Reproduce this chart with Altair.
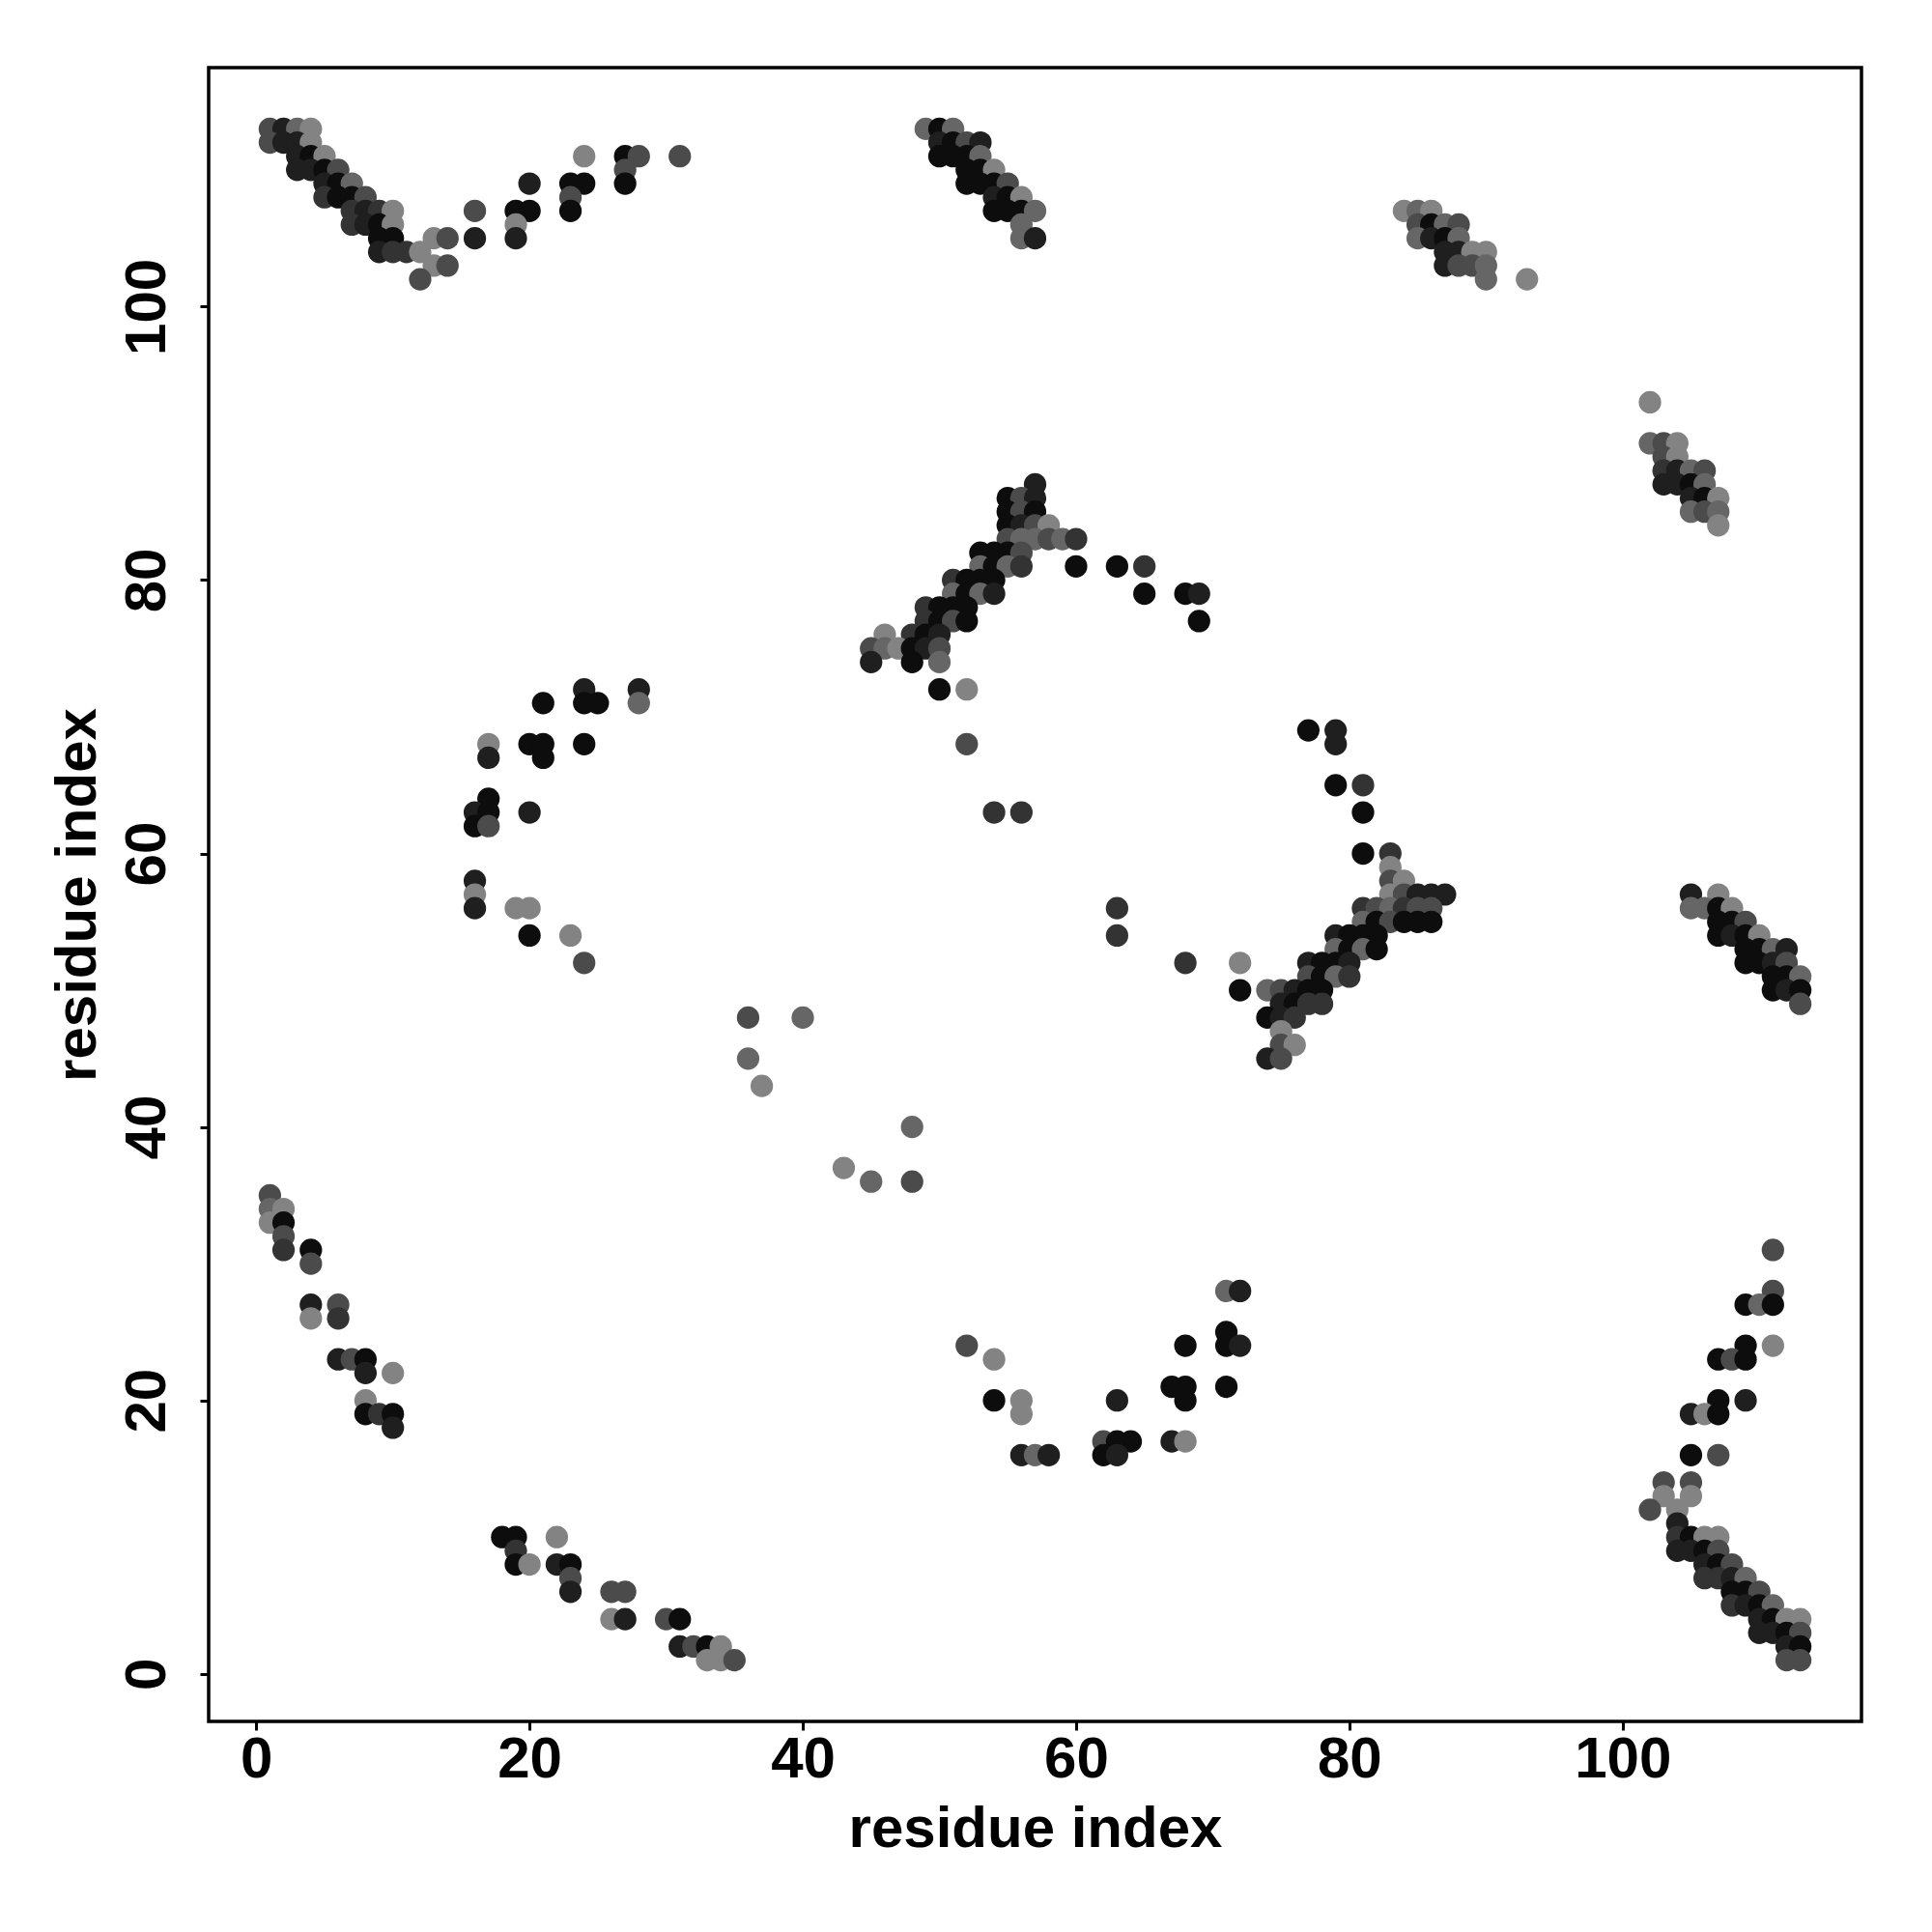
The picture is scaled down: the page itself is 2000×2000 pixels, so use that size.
import altair as alt
import pandas as pd

# Contact map points: (residue i, residue j, shade level 0=black .. 5=light grey)
top_left = [
    (1,113,3),(2,113,1),(3,113,4),(4,113,5),
    (1,112,3),(2,112,1),(3,112,1),(4,112,5),
    (3,111,1),(4,111,0),(5,111,5),(24,111,5),(27,111,0),(28,111,3),(31,111,3),
    (3,110,1),(4,110,1),(5,110,0),(6,110,3),(27,110,3),
    (5,109,1),(6,109,0),(7,109,4),(20,109,1),(23,109,0),(24,109,0),(27,109,0),
    (5,108,2),(6,108,0),(7,108,0),(8,108,3),(23,108,3),
    (7,107,2),(8,107,1),(9,107,2),(10,107,5),(16,107,3),(19,107,0),(20,107,0),(23,107,0),
    (7,106,2),(8,106,1),(9,106,0),(10,106,5),(19,106,5),
    (9,105,0),(10,105,0),(13,105,5),(14,105,3),(16,105,1),(19,105,1),
    (9,104,1),(10,104,2),(11,104,2),(12,104,5),
    (13,103,5),(14,103,3),
    (12,102,3),
]
top_mid = [
    (49,113,4),(50,113,0),(51,113,4),
    (50,112,1),(51,112,0),(52,112,3),(53,112,1),
    (50,111,0),(51,111,0),(52,111,0),(53,111,4),
    (52,110,0),(53,110,0),(54,110,5),
    (52,109,0),(53,109,0),(54,109,0),(55,109,3),
    (54,108,1),(55,108,0),(56,108,5),
    (54,107,0),(55,107,0),(56,107,0),(57,107,4),
    (56,106,4),
    (56,105,4),(57,105,1),
]
top_right = [
    (84,107,5),(85,107,4),(86,107,5),
    (85,106,3),(86,106,0),(87,106,4),(88,106,3),
    (85,105,4),(86,105,1),(87,105,0),(88,105,4),
    (87,104,1),(88,104,1),(89,104,5),(90,104,5),
    (87,103,1),(88,103,3),(89,103,3),(90,103,4),
    (90,102,4),(93,102,5),
]
right_upper = [
    (102,93,5),
    (102,90,4),(103,90,3),(104,90,5),
    (103,89,3),(104,89,5),
    (103,88,2),(104,88,1),(105,88,4),(106,88,3),
    (103,87,1),(104,87,1),(105,87,0),(106,87,4),
    (105,86,1),(106,86,0),(107,86,5),
    (105,85,4),(106,85,3),(107,85,4),
    (107,84,5),
]
center = [
    (57,87,1),
    (55,86,0),(56,86,3),(57,86,1),
    (55,85,0),(56,85,3),(57,85,0),
    (55,84,0),(56,84,1),(57,84,3),(58,84,5),
    (55,83,3),(56,83,4),(57,83,4),(58,83,3),(59,83,4),(60,83,2),
    (53,82,0),(54,82,0),(55,82,0),(56,82,3),
    (53,81,4),(54,81,0),(55,81,4),(56,81,2),(60,81,0),(63,81,0),(65,81,2),
    (51,80,2),(52,80,0),(53,80,0),(54,80,0),
    (51,79,4),(52,79,0),(53,79,4),(54,79,1),(65,79,0),(68,79,0),(69,79,1),
    (49,78,2),(50,78,0),(51,78,0),(52,78,0),
    (49,77,2),(50,77,0),(51,77,3),(52,77,0),(69,77,0),
    (46,76,5),(48,76,2),(49,76,0),(50,76,1),
    (45,75,3),(46,75,4),(47,75,5),(48,75,0),(49,75,1),(50,75,3),
    (45,74,1),(48,74,0),(50,74,4),
    (50,72,0),(52,72,5),
    (52,68,3),
    (54,63,2),(56,63,2),
]
left_mid = [
    (24,72,1),(28,72,1),
    (21,71,0),(24,71,0),(25,71,0),(28,71,4),
    (17,68,5),(20,68,0),(21,68,0),(24,68,0),
    (17,67,1),(21,67,0),
    (17,64,0),
    (16,63,1),(17,63,0),(20,63,1),
    (16,62,0),(17,62,3),
    (16,58,1),
    (16,57,5),
    (16,56,1),(19,56,5),(20,56,5),
    (20,54,0),(23,54,5),
    (24,52,3),
]
right_mid = [
    (77,69,0),(79,69,1),
    (79,68,1),
    (79,65,0),(81,65,2),
    (81,63,0),
    (81,60,0),(83,60,2),
    (83,59,5),
    (83,58,3),(84,58,5),
    (83,57,5),(84,57,3),(85,57,1),(86,57,1),(87,57,1),
    (81,56,2),(82,56,3),(83,56,4),(84,56,2),(85,56,3),(86,56,3),
    (81,55,4),(82,55,0),(83,55,3),(84,55,0),(85,55,0),(86,55,0),
    (79,54,1),(80,54,0),(81,54,0),(82,54,0),
    (79,53,4),(80,53,0),(81,53,4),(82,53,0),
    (72,52,5),(77,52,1),(78,52,0),(79,52,0),(80,52,1),
    (77,51,3),(78,51,0),(79,51,4),(80,51,2),
    (72,50,0),(74,50,4),(75,50,3),(76,50,1),(77,50,0),(78,50,0),
    (75,49,1),(76,49,0),(77,49,2),(78,49,2),
    (74,48,0),(75,48,1),(76,48,2),
    (75,47,5),
    (75,46,3),(76,46,5),
    (74,45,1),(75,45,3),
]
right_band = [
    (105,57,1),(107,57,5),
    (105,56,4),(106,56,4),(107,56,0),(108,56,5),
    (107,55,0),(108,55,0),(109,55,3),
    (107,54,0),(108,54,1),(109,54,0),(110,54,5),
    (109,53,0),(110,53,0),(111,53,4),(112,53,1),
    (109,52,0),(110,52,0),(111,52,1),(112,52,3),
    (111,51,0),(112,51,0),(113,51,4),
    (111,50,0),(112,50,1),(113,50,0),
    (113,49,3),
]
scattered = [
    (63,56,2),(63,54,2),(68,52,2),(36,48,3),(40,48,4),(36,45,4),
    (37,43,5),(48,40,4),(43,37,5),(45,36,4),(48,36,3),
]
bottom_left = [
    (1,35,3),
    (1,34,4),(2,34,5),
    (1,33,5),(2,33,0),
    (2,32,3),
    (2,31,2),(4,31,0),
    (4,30,3),
    (4,27,1),(6,27,3),
    (4,26,5),(6,26,2),
    (6,23,1),(7,23,3),(8,23,0),
    (8,22,1),(10,22,5),
    (8,20,5),
    (8,19,0),(9,19,2),(10,19,0),
    (10,18,1),
]
bottom_low = [
    (18,10,0),(19,10,0),(22,10,5),
    (19,9,2),
    (19,8,0),(20,8,5),(22,8,1),(23,8,0),
    (23,7,3),
    (23,6,1),(26,6,3),(27,6,3),
    (26,4,5),(27,4,1),(30,4,3),(31,4,0),
    (31,2,1),(32,2,3),(33,2,0),(34,2,5),
    (33,1,5),(34,1,5),(35,1,3),
]
bottom_mid = [
    (71,28,4),(72,28,1),
    (71,25,0),
    (52,24,3),(68,24,0),(71,24,0),(72,24,1),
    (54,23,5),
    (67,21,0),(68,21,0),(71,21,0),
    (54,20,0),(56,20,5),(63,20,1),(68,20,0),
    (56,19,5),
    (62,17,3),(63,17,0),(64,17,0),(67,17,1),(68,17,5),
    (56,16,1),(57,16,4),(58,16,1),(62,16,0),(63,16,1),
]
bottom_right = [
    (111,31,3),
    (111,28,3),
    (109,27,0),(110,27,4),(111,27,0),
    (109,24,0),(111,24,5),
    (107,23,0),(108,23,3),(109,23,0),
    (107,20,0),(109,20,1),
    (105,19,1),(106,19,5),(107,19,0),
    (105,16,0),(107,16,3),
    (103,14,3),(105,14,3),
    (103,13,5),(105,13,5),
    (102,12,3),(104,12,5),
    (104,11,1),
    (104,10,2),(105,10,0),(106,10,5),(107,10,5),
    (104,9,1),(105,9,1),(106,9,0),(107,9,3),
    (106,8,1),(107,8,0),(108,8,3),
    (106,7,2),(107,7,2),(108,7,1),(109,7,4),
    (108,6,0),(109,6,0),(110,6,3),
    (108,5,2),(109,5,1),(110,5,0),(111,5,4),
    (110,4,1),(111,4,0),(112,4,5),(113,4,5),
    (110,3,1),(111,3,1),(112,3,0),(113,3,3),
    (112,2,1),(113,2,0),
    (112,1,3),(113,1,3),
]

tick_values = [0, 20, 40, 60, 80, 100]
shade_levels = [0, 1, 2, 3, 4, 5]
shade_colors = ["#0d0d0d", "#1f1f1f", "#333333", "#4b4b4b", "#666666", "#838383"]

clusters = [top_left, top_mid, top_right, right_upper, center, left_mid,
            right_mid, right_band, scattered, bottom_left, bottom_low,
            bottom_mid, bottom_right]
rows = [p for c in clusters for p in c]
df = pd.DataFrame(rows, columns=["i", "j", "shade"])

W, H = 1711, 1712
dom = [-3.48, 117.48]
FONT = "Liberation Sans"

chart = alt.Chart(df).mark_circle(size=540, opacity=1).encode(
    x=alt.X("i:Q",
            scale=alt.Scale(domain=dom, nice=False, zero=False),
            axis=alt.Axis(values=tick_values, title="residue index",
                          labelAngle=0, labelAlign="center",
                          labelBaseline="alphabetic", labelPadding=48,
                          titleX=W / 2, titleY=129, titleAlign="center",
                          titleBaseline="alphabetic", titleAngle=0)),
    y=alt.Y("j:Q",
            scale=alt.Scale(domain=dom, nice=False, zero=False),
            axis=alt.Axis(values=tick_values, title="residue index",
                          labelAngle=270, labelAlign="center",
                          labelBaseline="alphabetic", labelPadding=37,
                          titleX=-118, titleY=H / 2, titleAlign="center",
                          titleBaseline="alphabetic", titleAngle=270)),
    color=alt.Color("shade:O",
                    scale=alt.Scale(domain=shade_levels, range=shade_colors),
                    legend=None),
).properties(
    width=W, height=H,
    autosize=alt.AutoSizeParams(type="none"),
    padding={"left": 208, "top": 62, "right": 60, "bottom": 210},
    background="white",
).configure_view(
    stroke="black", strokeWidth=3.5, fill="white"
).configure_axis(
    domain=False, grid=False,
    ticks=True, tickColor="black", tickSize=9, tickWidth=3,
    labelFont=FONT, labelFontWeight="bold", labelFontSize=60, labelColor="black",
    titleFont=FONT, titleFontWeight="bold", titleFontSize=60, titleColor="black",
    labelOverlap=False, labelFlush=False,
)

chart.save("out.html", embed_options={"renderer": "svg", "actions": False})
